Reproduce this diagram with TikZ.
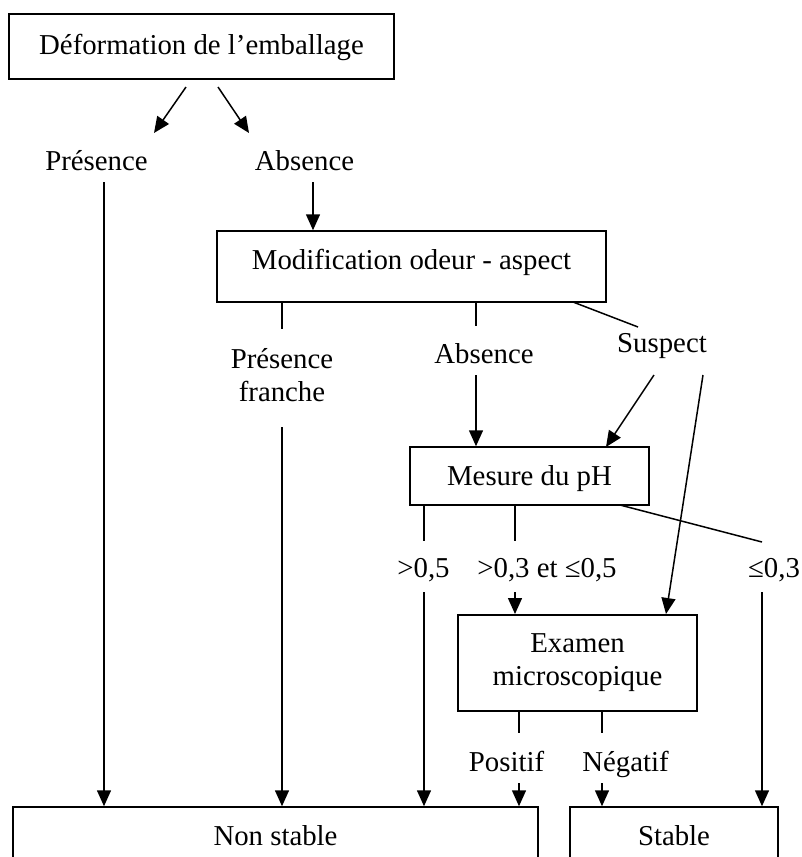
\documentclass[tikz,border=0pt]{standalone}
\usepackage{fontspec}
\setmainfont{Liberation Serif}
\usetikzlibrary{arrows.meta}
\begin{document}
\begin{tikzpicture}[x=1pt,y=-1pt,
  every node/.style={font=\fontsize{28.8pt}{33pt}\selectfont, inner sep=0pt},
  stepbox/.style={draw, line width=1.5pt, inner xsep=0pt, inner ysep=0pt},
  lbl/.style={anchor=base},
  conn/.style={line width=1.5pt},
  arr/.style={conn, -{Triangle[length=16pt,width=14pt]}}]
\useasboundingbox (0,0) rectangle (801,857);
\clip (0,0) rectangle (801,857);

% boxes (text height / depth measured from the baseline)
\node[stepbox, anchor=base, minimum width=385pt, text height=40pt, text depth=25pt]
  (dfm) at (201.5,54) {Déformation de l’emballage};
\node[stepbox, anchor=base, minimum width=389pt, text height=38pt, text depth=33pt]
  (mod) at (411.5,269) {Modification odeur - aspect};
\node[stepbox, anchor=base, minimum width=239pt, text height=38pt, text depth=20pt]
  (ph) at (529.5,485) {Mesure du pH};
\node[stepbox, anchor=north, minimum width=239pt, minimum height=96pt, align=center]
  (exam) at (577.5,614) {Examen\\microscopique};
\node[stepbox, anchor=base, minimum width=525pt, text height=38pt, text depth=30pt]
  (ns) at (275.5,845) {Non stable};
\node[stepbox, anchor=base, minimum width=208pt, text height=38pt, text depth=30pt]
  (st) at (674,845) {Stable};

% branch labels
\node[lbl] (pres1) at (96.5,170) {Présence};
\node[lbl] (abs1) at (304.5,170) {Absence};
\node[align=center] (presf) at (282,375) {Présence\\franche};
\node[lbl] (abs2) at (484,363) {Absence};
\node[lbl] (susp) at (662,352) {Suspect};
\node[lbl] (gt05) at (423.5,577) {>0,5};
\node[lbl] (mid) at (547,577) {>0,3 et ≤0,5};
\node[lbl] (le03) at (774,577) {≤0,3};
\node[lbl] (pos) at (506.5,771) {Positif};
\node[lbl] (neg) at (625.5,771) {Négatif};

% free ends of the connectors
\coordinate (d1) at (186,87);   \coordinate (d1e) at (154,133);
\coordinate (d2) at (218,87);   \coordinate (d2e) at (249,133);
\coordinate (p1) at (104,182);
\coordinate (a1) at (313,182);
\coordinate (m1e) at (282,329);
\coordinate (m2e) at (476,326);
\coordinate (m3) at (573,302); \coordinate (m3e) at (638,327);
\coordinate (pf) at (282,427);
\coordinate (a2) at (476,375);
\coordinate (s1) at (654,375);  \coordinate (s1e) at (606,447);
\coordinate (s2) at (703,375);  \coordinate (s2e) at (666,614);
\coordinate (h1e) at (424,541);
\coordinate (h2e) at (515,541);
\coordinate (h3) at (620,505);  \coordinate (h3e) at (762,542);
\coordinate (g1) at (424,592);
\coordinate (g2) at (515,592);
\coordinate (g3) at (762,592);
\coordinate (e1e) at (519,733);
\coordinate (e2e) at (602,733);
\coordinate (q1) at (519,783);
\coordinate (q2) at (602,783);

% connectors
\draw[arr] (d1) -- (d1e);
\draw[arr] (d2) -- (d2e);
\draw[arr] (p1) -- (p1 |- ns.north);
\draw[arr] (a1) -- (a1 |- mod.north);
\draw[conn] (m1e |- mod.south) -- (m1e);
\draw[conn] (m2e |- mod.south) -- (m2e);
\draw[conn] (m3) -- (m3e);
\draw[arr] (pf) -- (pf |- ns.north);
\draw[arr] (a2) -- (a2 |- ph.north);
\draw[arr] (s1) -- (s1e);
\draw[arr] (s2) -- (s2e);
\draw[conn] (h1e |- ph.south) -- (h1e);
\draw[conn] (h2e |- ph.south) -- (h2e);
\draw[conn] (h3) -- (h3e);
\draw[arr] (g1) -- (g1 |- ns.north);
\draw[arr] (g2) -- (g2 |- exam.north);
\draw[arr] (g3) -- (g3 |- st.north);
\draw[conn] (e1e |- exam.south) -- (e1e);
\draw[conn] (e2e |- exam.south) -- (e2e);
\draw[arr] (q1) -- (q1 |- ns.north);
\draw[arr] (q2) -- (q2 |- st.north);
\end{tikzpicture}
\end{document}
